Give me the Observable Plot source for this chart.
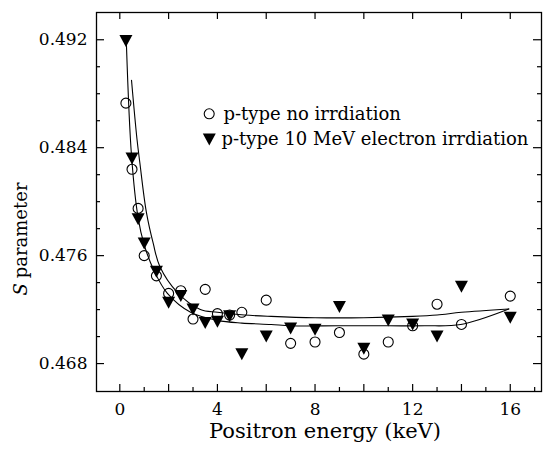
<!DOCTYPE html>
<html>
<head>
<meta charset="utf-8">
<script src="https://cdn.jsdelivr.net/npm/d3@7"></script>
<script src="https://cdn.jsdelivr.net/npm/@observablehq/plot@0.6"></script>
<style>
  html, body { margin: 0; padding: 0; background: white; }
  #chart svg { display: block; }
</style>
</head>
<body>
<div id="chart"></div>
<script>
// Positron energies (keV)
const energy = [0.25, 0.5, 0.75, 1, 1.5, 2, 2.5, 3, 3.5, 4, 4.5, 5, 6, 7, 8, 9, 10, 11, 12, 13, 14, 16];
// S parameter, p-type no irradiation (open circles)
const sNoIrr = [0.4873, 0.4824, 0.4795, 0.4760, 0.4745, 0.4732, 0.4734, 0.4713, 0.4735, 0.4717, 0.4716, 0.4718, 0.4727, 0.4695, 0.4696, 0.4703, 0.4687, 0.4696, 0.4708, 0.4724, 0.4709, 0.4730];
// S parameter, p-type 10 MeV electron irradiation (filled triangles)
const sIrr = [0.4919, 0.4832, 0.4787, 0.4769, 0.4748, 0.4725, 0.4730, 0.4720, 0.4710, 0.4711, 0.4715, 0.4687, 0.4700, 0.4706, 0.4705, 0.4722, 0.4691, 0.4712, 0.4709, 0.4700, 0.4737, 0.4714];

// Fitted curves
const fitAE = [0.27, 0.48, 0.75, 1.0, 1.4, 1.95, 2.9, 4.0, 5, 6.2, 7, 9, 11, 12.5, 13.97, 15.94];
const fitAS = [0.4917, 0.4834, 0.4788, 0.4768, 0.4749, 0.4732, 0.4718, 0.4712, 0.4710, 0.4709, 0.4708, 0.4708, 0.4708, 0.4708, 0.4709, 0.47205];
const fitBE = [0.48, 0.7, 0.82, 1.09, 1.37, 1.64, 2.35, 3.3, 4.0, 5.1, 6.2, 8, 10, 12, 13, 14, 15.94];
const fitBS = [0.4890, 0.4847, 0.4829, 0.4792, 0.4769, 0.4752, 0.4733, 0.4720, 0.4718, 0.4716, 0.4715, 0.4714, 0.4714, 0.4715, 0.4716, 0.4718, 0.47205];

// Ticks
const xLabelTicks = [0, 4, 8, 12, 16];
const xEvenTicks = [0, 2, 4, 6, 8, 10, 12, 14, 16];
const xOddTicks = [1, 3, 5, 7, 9, 11, 13, 15, 17];
const yMajorTicks = [0.468, 0.476, 0.484, 0.492];
const yMinorTicks = [0.470, 0.472, 0.474, 0.478, 0.480, 0.482, 0.486, 0.488, 0.490];

const legendLabels = ["p-type no irrdiation", "p-type 10 MeV electron irrdiation"];
const xLabel = "Positron energy (keV)";

const noIrr = energy.map((e, i) => ({e, s: sNoIrr[i]}));
const irr = energy.map((e, i) => ({e, s: sIrr[i]}));
const fitA = fitAE.map((e, i) => ({e, s: fitAS[i]}));
const fitB = fitBE.map((e, i) => ({e, s: fitBS[i]}));

const triDown = {
  draw(ctx, size) {
    const r = Math.sqrt(size / Math.PI);
    const hw = r * 1.3, hh = r * 1.2;
    ctx.moveTo(-hw, -hh);
    ctx.lineTo(hw, -hh);
    ctx.lineTo(0, hh);
    ctx.closePath();
  }
};

const W = 555, H = 452;
const mL = 96, mR = 14, mT = 12, mB = 61;
const fw = W - mL - mR, fh = H - mT - mB;
const serif = "DejaVu Serif";

const chart = Plot.plot({
  width: W,
  height: H,
  marginLeft: mL,
  marginRight: mR,
  marginTop: mT,
  marginBottom: mB,
  style: {fontFamily: serif, fontSize: "17px", background: "white", color: "black"},
  x: {domain: [-0.955, 17.28]},
  y: {domain: [0.46593, 0.49402]},
  marks: [
    Plot.frame({stroke: "black", strokeWidth: 1.3}),
    // ticks (inward)
    Plot.tickX(xEvenTicks, {x: d => d, insetTop: fh - 7, stroke: "black", strokeWidth: 1.2}),
    Plot.tickX(xOddTicks, {x: d => d, insetTop: fh - 4, stroke: "black", strokeWidth: 1.2}),
    Plot.tickX(xEvenTicks, {x: d => d, insetBottom: fh - 7, stroke: "black", strokeWidth: 1.2}),
    Plot.tickY(yMajorTicks, {y: d => d, insetRight: fw - 8, stroke: "black", strokeWidth: 1.2}),
    Plot.tickY(yMinorTicks, {y: d => d, insetRight: fw - 4, stroke: "black", strokeWidth: 1.2}),
    Plot.tickY(yMajorTicks, {y: d => d, insetLeft: fw - 8, stroke: "black", strokeWidth: 1.2}),
    Plot.tickY(yMinorTicks, {y: d => d, insetLeft: fw - 4, stroke: "black", strokeWidth: 1.2}),
    Plot.axisX({ticks: xLabelTicks, tickSize: 0, tickPadding: 11, label: null, fontSize: 17}),
    Plot.axisY({ticks: yMajorTicks, tickSize: 0, tickPadding: 9, label: null, fontSize: 17, tickFormat: d3.format(".3f")}),
    // fitted curves
    Plot.line(fitA, {x: "e", y: "s", curve: "catmull-rom", stroke: "black", strokeWidth: 1.1}),
    Plot.line(fitB, {x: "e", y: "s", curve: "catmull-rom", stroke: "black", strokeWidth: 1.1}),
    // data
    Plot.dot(noIrr, {x: "e", y: "s", r: 5, symbol: "circle", stroke: "black", fill: "none", strokeWidth: 1.1}),
    Plot.dot(irr, {x: "e", y: "s", r: 5, symbol: triDown, fill: "black", stroke: "none"}),
    // legend
    Plot.dot([legendLabels[0]], {frameAnchor: "top-left", dx: 112.7, dy: 101.3, r: 5, symbol: "circle", stroke: "black", fill: "none", strokeWidth: 1.1}),
    Plot.dot([legendLabels[1]], {frameAnchor: "top-left", dx: 112.8, dy: 127, r: 5, symbol: triDown, fill: "black", stroke: "none"}),
    Plot.text([legendLabels[0]], {text: d => d, frameAnchor: "top-left", dx: 127, dy: 101.3, textAnchor: "start", lineAnchor: "middle", fontSize: 18, fill: "black"}),
    Plot.text([legendLabels[1]], {text: d => d, frameAnchor: "top-left", dx: 125, dy: 127, textAnchor: "start", lineAnchor: "middle", fontSize: 18, fill: "black"}),
    // axis labels
    Plot.text([xLabel], {text: d => d, frameAnchor: "bottom", dx: 6, dy: 39.6, lineAnchor: "middle", fontSize: 21, fill: "black"}),
    Plot.text(["S"], {text: d => d, frameAnchor: "left", dx: -75, dy: 93.5, rotate: -90, textAnchor: "start", lineAnchor: "middle", fontStyle: "italic", fontSize: 18, fill: "black"}),
    Plot.text(["parameter"], {text: d => d, frameAnchor: "left", dx: -75, dy: 76.3, rotate: -90, textAnchor: "start", lineAnchor: "middle", fontSize: 18, fill: "black"})
  ]
});

document.getElementById("chart").appendChild(chart);
</script>
</body>
</html>
